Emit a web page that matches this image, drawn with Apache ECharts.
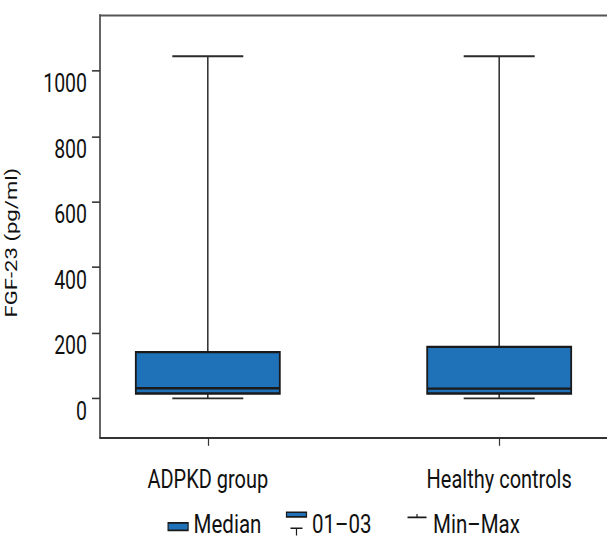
<!DOCTYPE html>
<html>
<head>
<meta charset="utf-8">
<script src="https://cdn.jsdelivr.net/npm/echarts@6/dist/echarts.min.js"></script>
<style>
	html, body { margin: 0; padding: 0; background: #fff; }
	#page { width: 607px; height: 536px; overflow: visible; }
	/* the source figure is stretched vertically, so draw it flatter and stretch it back */
	#main { width: 607px; height: 412px; transform: scaleY(1.3); transform-origin: 0 0; }
</style>
</head>
<body>
<div id="page"><div id="main"></div></div>
<script>
var categories = ['ADPKD group', 'Healthy controls'];
var minValues = [0, 0];
var q1Values = [15, 15];
var medianValues = [31, 30];
var q3Values = [141, 157];
var maxValues = [1044, 1044];
var yTicks = [0, 200, 400, 600, 800, 1000];
var legendNames = ['Median', '01–03', 'Min–Max'];

var fontName = 'Roboto';
var boxColor = '#1f71b8';
var lineColor = '#2b2b2b';

// wide box: Q1..Q3 with median line
function genBoxData() {
	return categories.map(function (c, i) {
		return [i, q1Values[i], q1Values[i], medianValues[i], q3Values[i], q3Values[i]];
	});
}

// narrow whiskers: min..max, box collapsed on the median (hidden behind the wide box)
function genWhiskerData() {
	return categories.map(function (c, i) {
		return [i, minValues[i], medianValues[i], medianValues[i], medianValues[i], maxValues[i]];
	});
}

function showChart(divId) {
	var chart = echarts.init(document.getElementById(divId), null, { renderer : 'svg' });
	var option = genOption();
	if (option && typeof option === "object") {
		chart.setOption(option, true);
	}
}

function genOption() {
	var option = {
		animation : false,
		grid : {
			left : 100,
			right : 0,
			top : 11.5,
			bottom : 75.3,
			outerBoundsMode : 'none'
		},
		legend : {
			left : 167,
			top : 389.3,
			padding : 0,
			itemWidth : 21,
			itemHeight : 23,
			itemGap : 24,
			selectedMode : false,
			textStyle : {
				color : '#111',
				fontFamily : fontName,
				fontSize : 20.5,
				lineHeight : 16
			},
			data : [ {
				name : legendNames[0],
				icon : 'path://M0 0M21 23M0.5 10.4L20.5 10.4L20.5 16.2L0.5 16.2Z',
				itemStyle : { color : boxColor, borderColor : '#1a1a1a', borderWidth : 1.2 }
			}, {
				name : legendNames[1],
				icon : 'path://M0 0M21 23M0.5 2.3L20.5 2.3L20.5 5.8L0.5 5.8ZM4.5 14.6L16.5 14.6M10.5 14.6L10.5 23',
				itemStyle : { color : boxColor, borderColor : '#1a1a1a', borderWidth : 1.2 },
				textStyle : { padding : [0, 9, 0, 0] }
			}, {
				name : legendNames[2],
				icon : 'path://M0 0M21 23M0.5 6.2L19.5 6.2M10 3.5L10 6.2',
				itemStyle : { color : 'none', borderColor : '#1a1a1a', borderWidth : 1.2 }
			} ]
		},
		xAxis : [ {
			type : 'value',
			position : 'bottom',
			min : -0.37,
			max : 1.37,
			splitLine : { show : false },
			axisLine : { show : true, onZero : false, lineStyle : { color : '#333', width : 1.5 } },
			axisTick : {
				show : true,
				customValues : [0, 1],
				length : 6.2,
				lineStyle : { color : '#333', width : 1.2 }
			},
			axisLabel : {
				customValues : [0, 1],
				margin : 22,
				color : '#111',
				fontFamily : fontName,
				fontSize : 20,
				formatter : function (v) { return categories[Math.round(v)]; }
			}
		}, {
			type : 'value',
			position : 'top',
			min : -0.37,
			max : 1.37,
			splitLine : { show : false },
			axisLine : { show : true, onZero : false, lineStyle : { color : '#555', width : 1.5 } },
			axisTick : { show : false },
			axisLabel : { show : false }
		} ],
		yAxis : {
			type : 'value',
			min : -120,
			max : 1170,
			name : 'FGF-23 (pg/ml)',
			nameLocation : 'middle',
			nameRotate : 90,
			nameGap : 80,
			nameTextStyle : {
				color : '#111',
				fontFamily : fontName,
				fontSize : 17,
				padding : [0, 25, 0, 0]
			},
			splitLine : { show : false },
			axisLine : { show : true, onZero : false, lineStyle : { color : '#333', width : 1.5 } },
			axisTick : {
				show : true,
				customValues : yTicks,
				length : 8,
				lineStyle : { color : '#333', width : 1.2 }
			},
			axisLabel : {
				customValues : yTicks,
				margin : 13,
				verticalAlign : 'top',
				color : '#111',
				fontFamily : fontName,
				fontSize : 19.5,
				formatter : function (v) { return String(v); }
			}
		},
		series : [ {
			name : legendNames[0],
			type : 'line',
			data : []
		}, {
			name : legendNames[2],
			type : 'boxplot',
			xAxisIndex : 1,
			boxWidth : [71, 71],
			z : 2,
			itemStyle : { color : 'transparent', borderColor : lineColor, borderWidth : 1.5 },
			emphasis : { disabled : true },
			data : genWhiskerData()
		}, {
			name : legendNames[1],
			type : 'boxplot',
			xAxisIndex : 0,
			boxWidth : [144, 144],
			z : 3,
			itemStyle : { color : boxColor, borderColor : '#1a1a1a', borderWidth : 1.8 },
			emphasis : { disabled : true },
			data : genBoxData()
		} ]
	};

	return option;
}

showChart('main');
</script>
</body>
</html>
